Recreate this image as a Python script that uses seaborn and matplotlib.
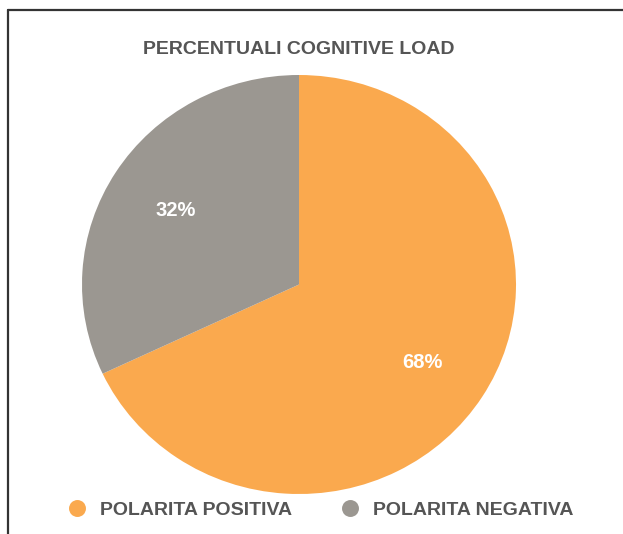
import matplotlib
matplotlib.use("Agg")
import matplotlib.pyplot as plt
from matplotlib.lines import Line2D
import seaborn as sns

# Dati del grafico
categorie = ["POLARITA POSITIVA", "POLARITA NEGATIVA"]
percentuali = [68, 32]
colori = ["#FAA94E", "#9B9791"]
titolo = "PERCENTUALI COGNITIVE LOAD"

sns.set_theme(style="white")
plt.rcParams["font.family"] = ["Liberation Sans", "DejaVu Sans"]

fig = plt.figure(figsize=(6.23, 5.34), dpi=100)
fig.patch.set_facecolor("white")

# Asse per la torta (leggermente ovale come nell'originale)
ax = fig.add_axes([82 / 623, 40 / 534, 434 / 623, 419 / 534])
wedges, labels, autotexts = ax.pie(
    percentuali,
    colors=sns.color_palette(colori),
    startangle=90,
    counterclock=False,
    autopct="%d%%",
    pctdistance=0.675,
    wedgeprops=dict(linewidth=0),
    textprops=dict(color="white", fontsize=14.5, fontweight="bold"),
)
for t in autotexts:
    t.set_va("center_baseline")
ax.set_xlim(-1, 1)
ax.set_ylim(-1, 1)
ax.set_aspect("auto")
ax.axis("off")

# Titolo
fig.text(299 / 623, 1 - 50 / 534, titolo, ha="center", va="center",
         fontsize=14, fontweight="bold", color="#555555")

# Legenda con cerchi
handles = [Line2D([], [], marker="o", linestyle="", markersize=12.2,
                  markerfacecolor=c, markeredgewidth=0) for c in colori]
leg = fig.legend(handles, categorie, loc="center left",
                 bbox_to_anchor=(67.3 / 623, 24 / 534), ncol=2, frameon=False,
                 handlelength=1.0, handletextpad=0.68, columnspacing=2.48,
                 borderpad=0, borderaxespad=0,
                 prop=dict(family="Liberation Sans", weight="bold", size=14))
for t in leg.get_texts():
    t.set_color("#555555")

# Cornice (solo sopra e a sinistra)
fig.add_artist(Line2D([8 / 623, 1.0], [1 - 10 / 534, 1 - 10 / 534],
                      transform=fig.transFigure, color="#333333", linewidth=1.6))
fig.add_artist(Line2D([8 / 623, 8 / 623], [0, 1 - 10 / 534],
                      transform=fig.transFigure, color="#333333", linewidth=1.6))

fig.savefig("out.png", dpi=100)
